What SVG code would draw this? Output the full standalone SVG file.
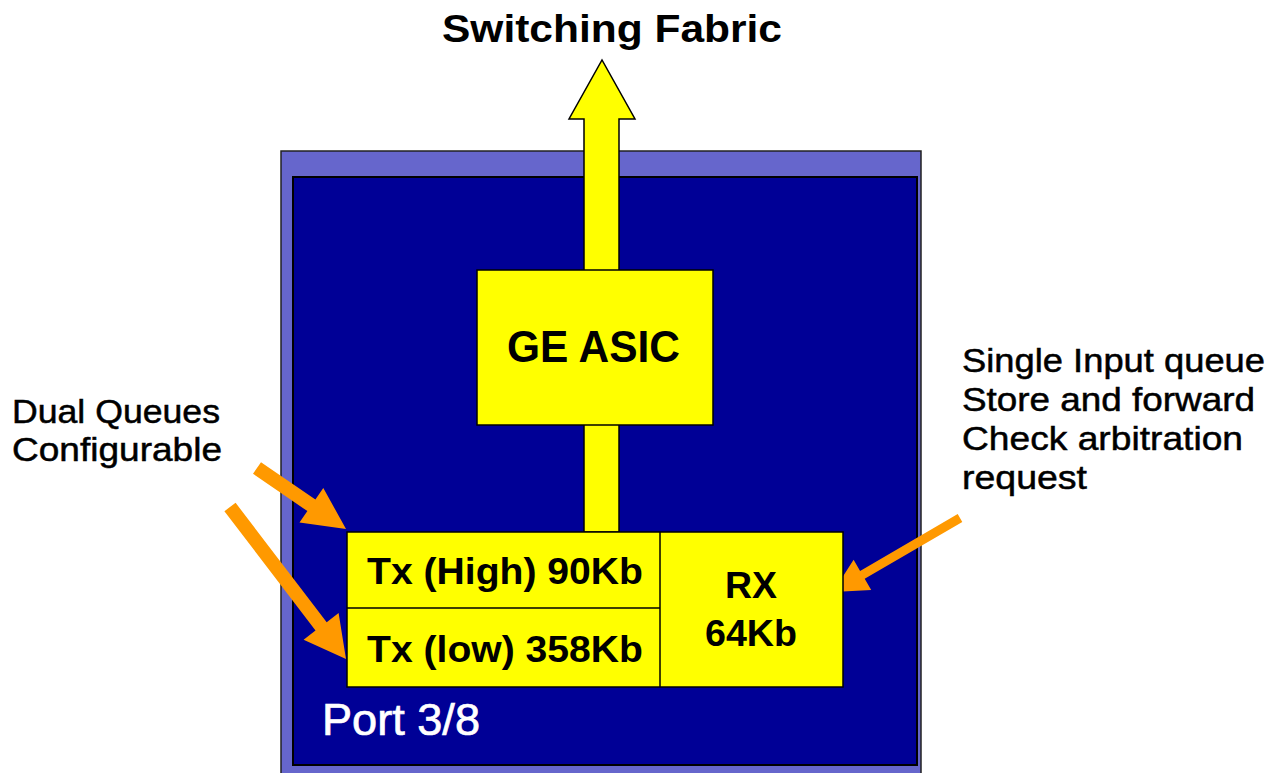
<svg xmlns="http://www.w3.org/2000/svg" width="1288" height="773" viewBox="0 0 1288 773">
<style>
.lbl{font-family:"Liberation Sans",Arial,sans-serif;fill:#000}
.b{font-weight:bold}
.side{font-size:33px;stroke:#000;stroke-width:0.5}
.box{fill:#FFFF00;stroke:#000;stroke-width:1.5}
.org{fill:#FF9900}
</style>
<rect width="1288" height="773" fill="#fff"/>
<g id="port">
<rect x="281" y="151" width="640" height="630" fill="#6666CC" stroke="#222" stroke-width="1.5"/>
<rect x="293" y="177" width="624" height="588" fill="#000096" stroke="#000" stroke-width="2"/>
<text class="lbl" x="322" y="735" font-size="44" style="fill:#fff;stroke:#fff;stroke-width:0.7" textLength="158" lengthAdjust="spacingAndGlyphs">Port 3/8</text>
</g>
<g id="connectors">
<polygon id="fabric-arrow" points="584,532 584,119 569,119 602,60 635,119 619,119 619,532" fill="#FFFF00" stroke="#000" stroke-width="1.5"/>
<polygon class="org" points="261,462.2 315.4,499.5 323.3,488 346,529 299.5,522.6 307.4,511.1 253,473.8"/>
<polygon class="org" points="235.6,502.8 326.7,622.2 338.6,613 346,659 303.6,639.8 315.5,630.6 224.4,511.2"/>
<polygon class="org" points="957.7,514.1 860.1,571 853.6,559.8 833,592 871.2,590 864.7,578.8 962.3,521.9"/>
</g>
<g id="title">
<text class="lbl b" x="442" y="42" font-size="38" textLength="340" lengthAdjust="spacingAndGlyphs">Switching Fabric</text>
</g>
<g id="ge-asic">
<rect class="box" x="477" y="270" width="236" height="155"/>
<text class="lbl b" x="507" y="362" font-size="44" textLength="173" lengthAdjust="spacingAndGlyphs">GE ASIC</text>
</g>
<g id="queues">
<rect class="box" x="347" y="532" width="496" height="155"/>
<line x1="660" y1="532" x2="660" y2="687" stroke="#000" stroke-width="1.5"/>
<line x1="347" y1="608" x2="660" y2="608" stroke="#000" stroke-width="1.5"/>
<text class="lbl b" x="367" y="584" font-size="37" textLength="276" lengthAdjust="spacingAndGlyphs">Tx (High) 90Kb</text>
<text class="lbl b" x="367" y="662" font-size="37" textLength="276" lengthAdjust="spacingAndGlyphs">Tx (low) 358Kb</text>
<text class="lbl b" x="725" y="598" font-size="37" textLength="52" lengthAdjust="spacingAndGlyphs">RX</text>
<text class="lbl b" x="705" y="646" font-size="37" textLength="92" lengthAdjust="spacingAndGlyphs">64Kb</text>
</g>
<g id="left-note">
<text class="lbl side" x="12" y="423" textLength="208" lengthAdjust="spacingAndGlyphs">Dual Queues</text>
<text class="lbl side" x="12" y="461" textLength="210" lengthAdjust="spacingAndGlyphs">Configurable</text>
</g>
<g id="right-note">
<text class="lbl side" x="962" y="372" textLength="303" lengthAdjust="spacingAndGlyphs">Single Input queue</text>
<text class="lbl side" x="962" y="411" textLength="293" lengthAdjust="spacingAndGlyphs">Store and forward</text>
<text class="lbl side" x="962" y="450" textLength="281" lengthAdjust="spacingAndGlyphs">Check arbitration</text>
<text class="lbl side" x="962" y="489" textLength="125" lengthAdjust="spacingAndGlyphs">request</text>
</g>
</svg>
